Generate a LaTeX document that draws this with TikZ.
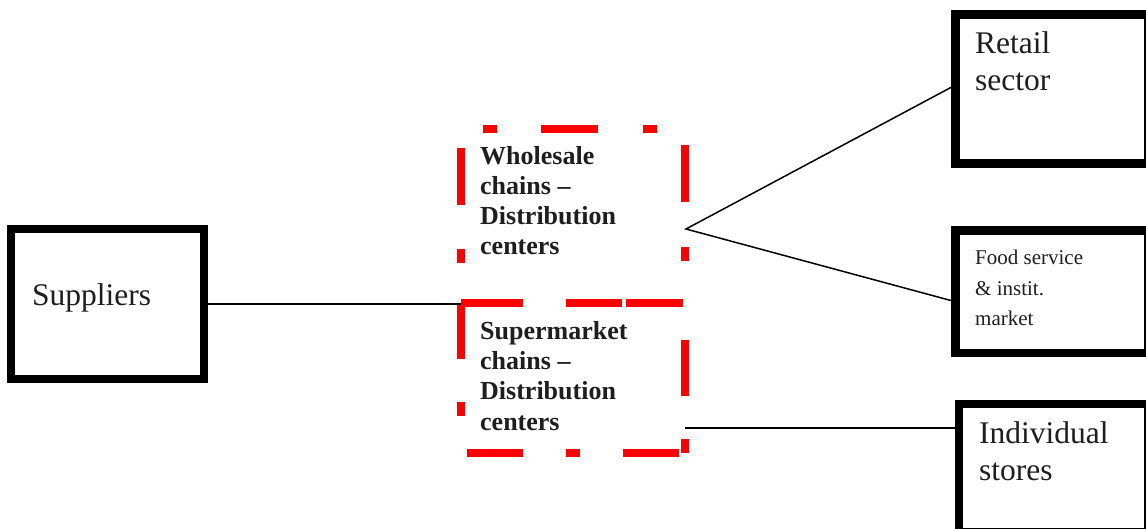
\documentclass[tikz,border=0pt]{standalone}
\usepackage{fontspec}
\setmainfont{Liberation Serif}
\begin{document}
\begin{tikzpicture}[x=1pt,y=-1pt,
  blackbox/.style={draw=black,line width=8.5pt,inner sep=0pt,outer sep=0pt},
  redbox/.style={draw=none,inner sep=0pt,outer sep=0pt},
  reddash/.style={draw={rgb,255:red,255;green,0;blue,0},line width=8pt,line cap=butt},
  txt/.style={inner sep=0pt,anchor=base west,align=left,text={rgb,255:red,30;green,30;blue,30}},
  bigtxt/.style={txt,font=\fontsize{31.5}{37}\selectfont},
  boldtxt/.style={txt,font=\fontsize{26}{30.3}\selectfont\bfseries},
  smalltxt/.style={txt,font=\fontsize{21}{30.5}\selectfont},
  conn/.style={draw=black,line width=1.5pt}]
\useasboundingbox (0,0) rectangle (1146,529);
\fill[white] (0,0) rectangle (1146,529);

% boxes
\node[blackbox,minimum width=193pt,minimum height=150pt] (supbox) at (107.5,304) {};
\node[blackbox,minimum width=192.5pt,minimum height=149pt] (retail) at (1051.75,89) {};
\node[blackbox,minimum width=192.5pt,minimum height=122.5pt] (food) at (1051.75,291.75) {};
\node[blackbox,minimum width=189pt,minimum height=128pt] (ind) at (1053.5,468) {};
\node[redbox,minimum width=224pt,minimum height=174pt] (whole) at (573,216) {};
\node[redbox,minimum width=224pt,minimum height=150pt] (super) at (573,378) {};

% red dashed borders
\draw[reddash,dash pattern=on 14pt off 44pt on 57pt off 45pt,dash phase=138pt]
  (whole.north west) -- (whole.north east) -- (whole.south east) -- (whole.south west) -- cycle;
\draw[reddash,dash pattern=on 14pt off 43pt on 56pt off 43pt,dash phase=57pt]
  (super.north west) -- (super.south west) -- (super.south east);
\draw[reddash,dash pattern=on 14pt off 43pt on 56pt off 43pt,dash phase=0pt]
  (super.south east) -- (super.north east) -- (super.north west);

% texts (base = baseline of last line)
\node[bigtxt] (suptext) at (32,306) {Suppliers};
\node[bigtxt] (retailtext) at (975,91) {Retail\\sector};
\node[smalltxt] (foodtext) at (975,326) {Food service\\\& instit.\\market};
\node[bigtxt] (indtext) at (979,480) {Individual\\stores};
\node[boldtxt] (wholetext) at (480,255) {Wholesale\\chains –\\Distribution\\centers};
\node[boldtxt] (supertext) at (480,430) {Supermarket\\chains –\\Distribution\\centers};

% connectors
\coordinate (apex) at (686,229);
\draw[conn] (supbox.east) -- (supbox.east -| super.west);
\draw[conn] ([yshift=4pt]retail.west) -- (apex) -- ([yshift=-10pt]food.west);
\draw[conn] ([yshift=-50pt]super.east) -- ([yshift=-50pt]super.east -| ind.west);
\end{tikzpicture}
\end{document}
